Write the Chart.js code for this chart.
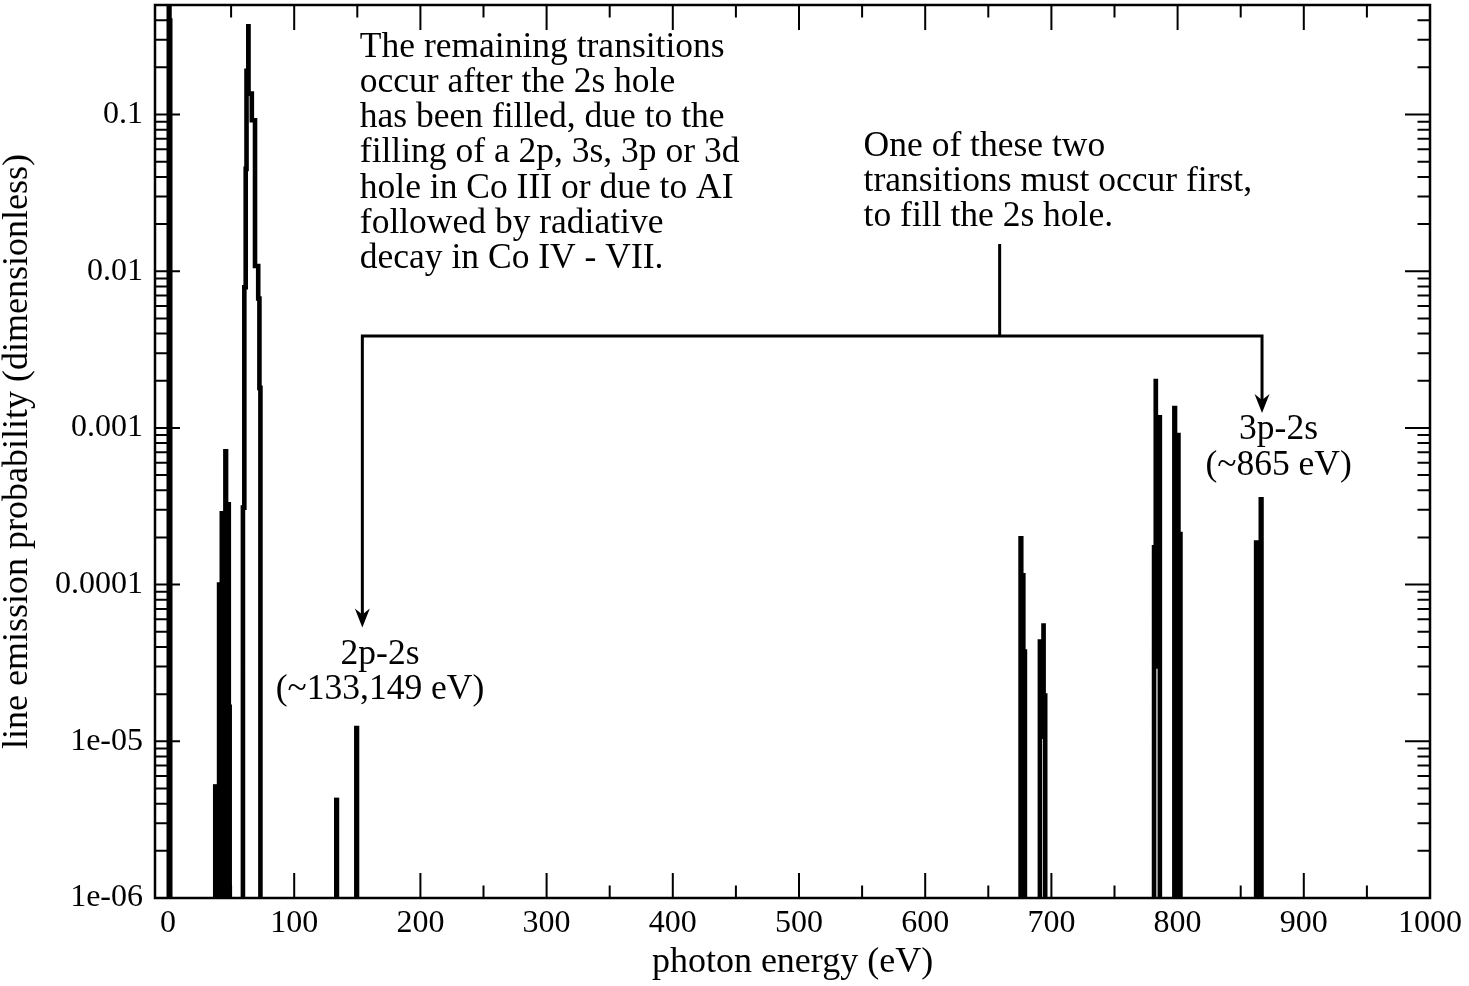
<!DOCTYPE html>
<html>
<head>
<meta charset="utf-8">
<script src="https://cdn.jsdelivr.net/npm/chart.js@4.4.1/dist/chart.umd.min.js"></script>
<style>
  html, body { margin: 0; padding: 0; background: #fff; }
  canvas { display: block; }
</style>
</head>
<body>
<canvas id="spectrum" width="1469" height="986"></canvas>
<script>
// resolved lines, drawn as drop bars: photon energy (eV) / line emission probability
const lineEnergy = [0.9, 1.5, 37.7, 40.75, 42.9, 45.75, 47.9, 48.6, 133.6, 149.5,
  675.85, 677.5, 678.75, 797.7, 800.4, 802.0, 862.5, 866.2]
const lineProb = [0.8, 0.41, 5.3e-6, 1.03e-4, 2.93e-4, 7.3e-4, 3.35e-4, 1.71e-5, 4.35e-6, 1.25e-5,
  2.03e-4, 1.18e-4, 3.85e-5, 1.38e-3, 9.26e-4, 2.16e-4, 1.91e-4, 3.61e-4]

// blended groups, traced as steps (0 = trace back down on the axis)
const blendEnergy = [59.37, 59.37, 60.48, 61.58, 62.22, 63.64, 63.8, 66.42, 68.95, 71.49, 72.44, 73.23,
  690.89, 690.89, 693.74, 693.82, 694.3, 695.09,
  781.35, 781.35, 782.69, 782.77, 785.94, 785.94]
const blendProb = [0, 3.1e-4, 7.9e-3, 0.045, 0.19, 0.365, 0.136, 0.092, 0.0108, 0.0067, 0.0018, 0,
  0, 4.33e-5, 5.48e-5, 1.07e-5, 1.96e-5, 0,
  0, 1.73e-4, 1.99e-3, 3.0e-5, 1.21e-3, 0]

const xTicks = [0, 100, 200, 300, 400, 500, 600, 700, 800, 900, 1000]
const yTicks = [1e-6, 1e-5, 1e-4, 1e-3, 0.01, 0.1]
const yTickLabels = ['1e-06', '1e-05', '0.0001', '0.001', '0.01', '0.1']
const yMin = 1e-6
const yMax = 0.5

const noteRemaining = ['The remaining transitions', 'occur after the 2s hole', 'has been filled, due to the',
  'filling of a 2p, 3s, 3p or 3d', 'hole in Co III or due to AI', 'followed by radiative', 'decay in Co IV - VII.']
const noteFirst = ['One of these two', 'transitions must occur first,', 'to fill the 2s hole.']
const label2p = ['2p-2s', '(~133,149 eV)']
const label3p = ['3p-2s', '(~865 eV)']

const FONT = '"Liberation Serif", "Times New Roman", serif'

// minor ticks in between the labelled ones
const xMinor = xTicks.slice(0, -1).map(v => v + 50)
const yMinor = []
yTicks.forEach(d => {
	for (let m = 2; m <= 9; m++) if (m * d <= yMax + 1e-12) yMinor.push(m * d)
})

function textLines(ctx, lines, px, py, align) {
	ctx.textAlign = align
	lines.forEach((t, i) => ctx.fillText(t, px, py + i * 35.2))
}

function arrowDown(ctx, px, py) {
	ctx.beginPath()
	ctx.moveTo(px, py)
	ctx.lineTo(px - 7.5, py - 19)
	ctx.lineTo(px, py - 13)
	ctx.lineTo(px + 7.5, py - 19)
	ctx.closePath()
	ctx.fill()
}

const decor = {
	id: 'decor',
	afterDatasetsDraw(chart) {
		const { ctx, chartArea: a, scales: { x, y } } = chart
		ctx.save()
		ctx.strokeStyle = '#000'
		ctx.fillStyle = '#000'

		// ticks on all four sides, pointing inwards
		ctx.lineWidth = 2
		ctx.beginPath()
		const xt = (v, len) => {
			const px = x.getPixelForValue(v)
			ctx.moveTo(px, a.bottom); ctx.lineTo(px, a.bottom - len)
			ctx.moveTo(px, a.top); ctx.lineTo(px, a.top + len)
		}
		const yt = (v, len) => {
			const py = y.getPixelForValue(v)
			ctx.moveTo(a.left, py); ctx.lineTo(a.left + len, py)
			ctx.moveTo(a.right, py); ctx.lineTo(a.right - len, py)
		}
		xTicks.forEach(v => xt(v, 25))
		xMinor.forEach(v => xt(v, 12.5))
		yTicks.forEach(v => yt(v, 25))
		yMinor.forEach(v => yt(v, 12.5))
		ctx.stroke()

		ctx.lineWidth = 2.5
		ctx.strokeRect(a.left, a.top, a.right - a.left, a.bottom - a.top)

		// bracket joining the two 2s-filling transitions
		const bx1 = x.getPixelForValue(154.0)
		const bx2 = x.getPixelForValue(866.9)
		const stem = x.getPixelForValue(659.0)
		const by = y.getPixelForValue(3.86e-3)
		const tip1 = y.getPixelForValue(5.32e-5)
		const tip2 = y.getPixelForValue(1.245e-3)
		ctx.lineWidth = 3
		ctx.beginPath()
		ctx.moveTo(bx1, tip1 - 10)
		ctx.lineTo(bx1, by)
		ctx.lineTo(bx2, by)
		ctx.lineTo(bx2, tip2 - 10)
		ctx.moveTo(stem, by)
		ctx.lineTo(stem, y.getPixelForValue(0.0149))
		ctx.stroke()
		arrowDown(ctx, bx1, tip1)
		arrowDown(ctx, bx2, tip2)

		// notes
		ctx.font = '35.5px ' + FONT
		ctx.textBaseline = 'middle'
		textLines(ctx, noteRemaining, x.getPixelForValue(152.0), y.getPixelForValue(0.268), 'left')
		textLines(ctx, noteFirst, x.getPixelForValue(551.2), y.getPixelForValue(0.0624), 'left')
		textLines(ctx, label2p, x.getPixelForValue(168.0), y.getPixelForValue(3.58e-5), 'center')
		textLines(ctx, label3p, x.getPixelForValue(880.0), y.getPixelForValue(9.69e-4), 'center')
		ctx.restore()
	},
}

new Chart(document.getElementById('spectrum'), {
	type: 'line',
	data: {
		datasets: [
			{
				type: 'bar',
				data: lineEnergy.map((e, i) => ({ x: e, y: lineProb[i] })),
				backgroundColor: '#000',
				borderWidth: 0,
				barThickness: 4.6,
				clip: 0,
			},
			{
				// a log axis cannot show 0: send those points below the floor, the clip cuts them off
				data: blendEnergy.map((e, i) => ({ x: e, y: blendProb[i] > 0 ? blendProb[i] : yMin / 10 })),
				borderColor: '#000',
				borderWidth: 4.6,
				pointRadius: 0,
				stepped: true,
				fill: false,
				clip: 0,
			},
		],
	},
	options: {
		responsive: false,
		animation: false,
		layout: { autoPadding: false, padding: { top: 5, right: 39, left: 0, bottom: 0 } },
		plugins: { legend: { display: false }, tooltip: { enabled: false } },
		scales: {
			x: {
				type: 'linear',
				offset: false,
				min: -10.3,
				max: 1000,
				afterBuildTicks: s => {
					s.ticks = xTicks.map(v => ({ value: v }))
				},
				afterFit: s => {
					s.height = 88
					s.paddingLeft = 0
					s.paddingRight = 0
				},
				grid: { display: false, drawTicks: false, offset: false },
				border: { display: false },
				ticks: {
					color: '#000',
					font: { family: FONT, size: 32 },
					padding: 6,
					maxRotation: 0,
					autoSkip: false,
					callback: v => String(v),
				},
				title: {
					display: true,
					text: 'photon energy (eV)',
					color: '#000',
					font: { family: FONT, size: 36, lineHeight: 1 },
					padding: { top: 0, bottom: 5 },
				},
			},
			y: {
				type: 'logarithmic',
				min: yMin,
				max: yMax,
				afterBuildTicks: s => {
					s.ticks = yTicks.map(v => ({ value: v }))
				},
				afterFit: s => {
					s.width = 155
					s.paddingTop = 0
					s.paddingBottom = 0
				},
				grid: { display: false, drawTicks: false },
				border: { display: false },
				ticks: {
					color: '#000',
					font: { family: FONT, size: 32 },
					padding: 12,
					autoSkip: false,
					callback: v => yTickLabels[yTicks.indexOf(v)],
				},
				title: {
					display: true,
					text: 'line emission probability (dimensionless)',
					color: '#000',
					font: { family: FONT, size: 36, lineHeight: 1 },
					padding: { top: 0, bottom: 0 },
				},
			},
		},
	},
	plugins: [decor],
})
</script>
</body>
</html>
